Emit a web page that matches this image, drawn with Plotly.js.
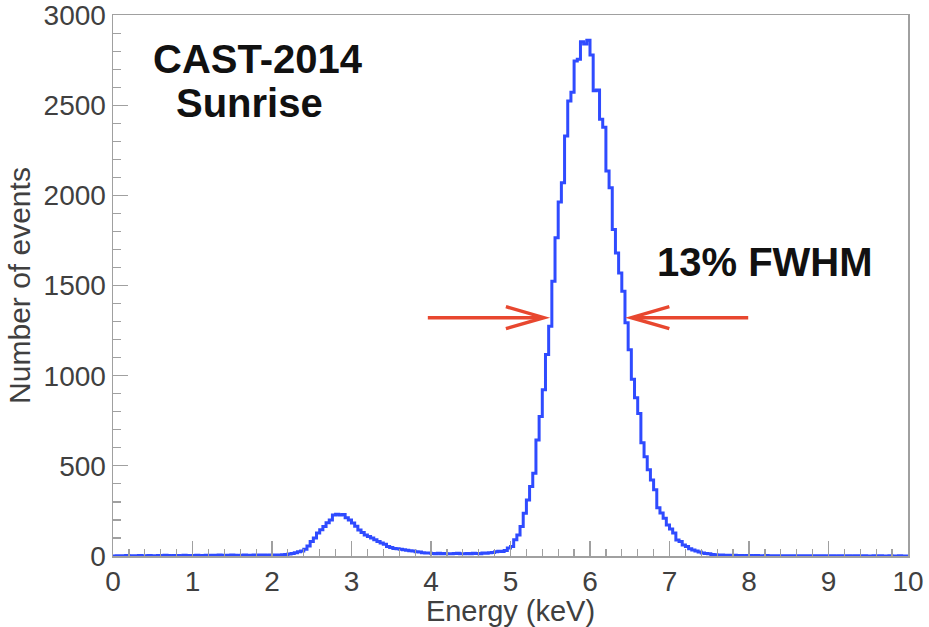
<!DOCTYPE html>
<html>
<head>
<meta charset="utf-8">
<script src="https://cdn.plot.ly/plotly-3.0.1.min.js"></script>
<style>html,body{margin:0;padding:0;background:#fff;}#chart{width:929px;height:627px;}</style>
</head>
<body>
<div id="chart"></div>
<script>
// Histogram: energy bins of 0.04 keV from 0 to 10 keV
const binStart = 0;
const binWidth = 0.04;
const counts = [
  0, 1, 2, 1, 3, 2, 1, 2, 3, 2,
  2, 3, 2, 1, 3, 2, 4, 3, 2, 3,
  3, 2, 4, 3, 2, 3, 4, 2, 3, 4,
  3, 4, 3, 5, 4, 3, 4, 5, 4, 3,
  4, 5, 4, 3, 5, 4, 5, 6, 4, 5,
  5, 6, 5, 7, 9, 11, 14, 18, 23, 28,
  38, 55, 80, 100, 128, 145, 163, 185, 200, 228,
  232, 228, 230, 212, 200, 183, 165, 144, 130, 117,
  108, 100, 90, 80, 72, 65, 52, 47, 42, 40,
  38, 35, 32, 29, 28, 24, 22, 18, 17, 16,
  14, 13, 15, 12, 14, 13, 12, 14, 15, 13,
  12, 14, 13, 15, 14, 13, 16, 15, 18, 20,
  24, 26, 25, 30, 45, 52, 90, 117, 163, 237,
  311, 385, 459, 644, 774, 922, 1117, 1274, 1524, 1765,
  1963, 2070, 2330, 2524, 2572, 2746, 2755, 2852, 2840, 2860,
  2778, 2580, 2585, 2422, 2378, 2135, 2043, 1811, 1681, 1570,
  1468, 1294, 1144, 980, 878, 790, 628, 550, 478, 422,
  367, 267, 239, 210, 172, 150, 128, 89, 80, 61,
  52, 40, 33, 28, 22, 17, 14, 12, 9, 7,
  6, 5, 4, 4, 3, 4, 3, 3, 2, 3,
  3, 2, 3, 2, 2, 3, 2, 1, 2, 2,
  2, 1, 2, 1, 2, 1, 1, 2, 1, 1,
  1, 2, 1, 1, 0, 1, 1, 0, 1, 1,
  0, 1, 0, 1, 1, 0, 1, 0, 0, 1,
  0, 1, 0, 0, 1, 0, 0, 1, 0, 0
];
const xTickVals = [0,1,2,3,4,5,6,7,8,9,10];
const yTickVals = [0,500,1000,1500,2000,2500,3000];
const labels = {
  title1: "CAST-2014",
  title2: "Sunrise",
  fwhm: "13% FWHM",
  xTitle: "Energy (keV)",
  yTitle: "Number of events"
};
// FWHM arrows (energy of tail and tip, height)
const arrowLeft = {tail: 3.96, tip: 5.42};
const arrowRight = {tail: 7.99, tip: 6.52};
const arrowLevel = 1322;

// step outline: left edges plus final right edge
const xs = [], ys = [];
for (let i = 0; i < counts.length; i++) {
  xs.push(+(binStart + i * binWidth).toFixed(4));
  ys.push(counts[i]);
}
xs.push(+(binStart + counts.length * binWidth).toFixed(4));
ys.push(counts[counts.length - 1]);

const FONT = "Arial, 'Liberation Sans', Helvetica, sans-serif";
const red = "#e8472f";

const trace = {
  type: "scatter", mode: "lines",
  x: xs, y: ys,
  line: {shape: "hv", color: "#2f4bff", width: 3},
  hoverinfo: "skip", cliponaxis: false
};

const axCommon = {
  showgrid: false, zeroline: false,
  showline: true, linecolor: "#a0a0a0", linewidth: 1.5, mirror: true,
  ticks: "inside", tickcolor: "#a0a0a0", tickwidth: 1.2, ticklen: 15,
  ticklabeloverflow: "allow",
  tickfont: {family: FONT, size: 28, color: "#404040"}
};

const layout = {
  width: 929, height: 627,
  margin: {l: 113, r: 21, t: 15, b: 71, pad: 0},
  paper_bgcolor: "#fff", plot_bgcolor: "#fff",
  showlegend: false,
  xaxis: Object.assign({}, axCommon, {
    range: [0, 10], tickvals: xTickVals, ticktext: xTickVals.map(String),
    minor: {dtick: 0.2, ticks: "inside", ticklen: 7, tickcolor: "#a0a0a0", tickwidth: 1.2},
    title: {text: labels.xTitle, font: {family: FONT, size: 29, color: "#404040"}, standoff: 3}
  }),
  yaxis: Object.assign({}, axCommon, {
    range: [0, 3000.5], tickvals: yTickVals, ticktext: yTickVals.map(String),
    minor: {dtick: 100, ticks: "inside", ticklen: 8, tickcolor: "#a0a0a0", tickwidth: 1.2},
    title: {text: labels.yTitle, font: {family: FONT, size: 30, color: "#404040"}, standoff: 4}
  }),
  annotations: [
    {xref: "paper", yref: "paper", x: 0.183, y: 0.918, xanchor: "center", yanchor: "middle",
     text: "<b>" + labels.title1 + "</b>", showarrow: false, font: {family: FONT, size: 40, color: "#111"}},
    {xref: "paper", yref: "paper", x: 0.172, y: 0.838, xanchor: "center", yanchor: "middle",
     text: "<b>" + labels.title2 + "</b>", showarrow: false, font: {family: FONT, size: 40, color: "#111"}},
    {xref: "paper", yref: "paper", x: 0.82, y: 0.543, xanchor: "center", yanchor: "middle",
     text: "<b>" + labels.fwhm + "</b>", showarrow: false, font: {family: FONT, size: 40, color: "#111"}}
  ],
  shapes: [
    {type: "line", xref: "x", yref: "y", x0: arrowLeft.tail, x1: arrowLeft.tip - 0.02, y0: arrowLevel, y1: arrowLevel,
     line: {color: red, width: 3.5}},
    {type: "path", xref: "x", yref: "y", xsizemode: "pixel", ysizemode: "pixel",
     xanchor: arrowLeft.tip, yanchor: arrowLevel, path: "M-38,11 L0,0 L-38,-11",
     line: {color: red, width: 3.5}},
    {type: "line", xref: "x", yref: "y", x0: arrowRight.tail, x1: arrowRight.tip + 0.02, y0: arrowLevel, y1: arrowLevel,
     line: {color: red, width: 3.5}},
    {type: "path", xref: "x", yref: "y", xsizemode: "pixel", ysizemode: "pixel",
     xanchor: arrowRight.tip, yanchor: arrowLevel, path: "M38,11 L0,0 L38,-11",
     line: {color: red, width: 3.5}}
  ]
};

Plotly.newPlot("chart", [trace], layout, {staticPlot: true, displayModeBar: false});
</script>
</body>
</html>
